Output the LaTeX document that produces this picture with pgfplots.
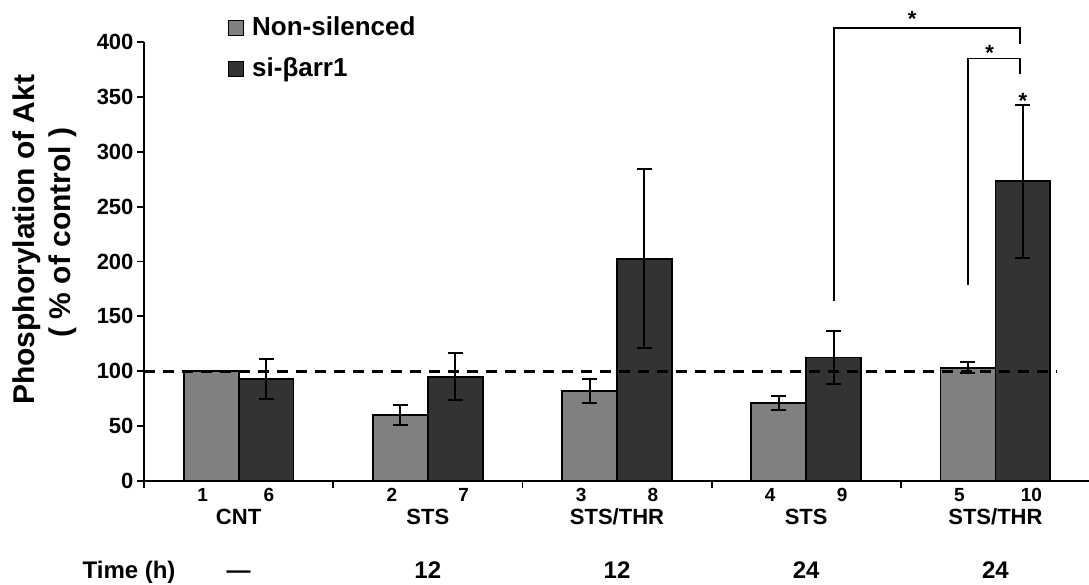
\documentclass[border=0pt]{standalone}
\usepackage{fontspec}
\setmainfont{Liberation Sans}
\usepackage{pgfplots}
\pgfplotsset{compat=1.18}
\usepackage{pgfplotstable}
\definecolor{lightbar}{HTML}{808080}
\definecolor{darkbar}{HTML}{333333}
\newcommand{\fs}[1]{\fontsize{#1}{#1}\selectfont\bfseries}
\tikzset{
  numlab/.style={anchor=base, font=\fs{19}, inner sep=0pt, yshift=-21pt},
  catlab/.style={anchor=base, font=\fs{22}, inner sep=0pt, yshift=-44pt},
  timelab/.style={anchor=base, font=\fs{24}, inner sep=0pt, yshift=-97pt},
  star/.style={font=\fs{22}, inner sep=0pt},
}

% x = bar centre (group index -/+ 0.145)
\pgfplotstableread{
x y ey
-0.145 100 0
0.855 60 8.8
1.855 82 10.6
2.855 71 6.5
3.855 103 5
}\nonsilenced
\pgfplotstableread{
x y ey
0.145 93 18.5
1.145 95 21.3
2.145 202.5 81.5
3.145 112.5 24.5
4.145 273 70
}\siarr

\begin{document}
\begin{tikzpicture}
\begin{axis}[
  at={(0,0)}, anchor=south west,
  width=946pt, height=439pt, scale only axis,
  xmin=-0.5, xmax=4.5, ymin=0, ymax=400,
  axis x line=bottom, axis y line=left,
  axis line style={-, line width=1.8pt, black},
  xtick={-0.5,0.5,1.5,2.5,3.5,4.5}, xticklabels={},
  ytick={0,50,...,400},
  tick align=outside, tick style={line width=1.8pt, black},
  major tick length=7pt,
  yticklabel style={font=\fs{22}},
  /pgf/number format/assume math mode=true,
  clip=false,
]
\addplot[ybar, bar width=0.29, bar shift=0, fill=lightbar, draw=black, line width=1.8pt,
  error bars/.cd, y dir=both, y explicit,
  error bar style={line width=2pt, black},
  error mark options={rotate=90, mark size=7.5pt, line width=2pt, black}]
  table[x=x, y=y, y error=ey] {\nonsilenced};
\addplot[ybar, bar width=0.29, bar shift=0, fill=darkbar, draw=black, line width=1.8pt,
  error bars/.cd, y dir=both, y explicit,
  error bar style={line width=2pt, black},
  error mark options={rotate=90, mark size=7.5pt, line width=2pt, black}]
  table[x=x, y=y, y error=ey] {\siarr};
% reference line
\addplot[black, line width=2.8pt, dash pattern=on 11pt off 8pt, forget plot] coordinates {(-0.5,100) (4.326,100)};
% significance brackets
\addplot[black, line width=1.8pt, sharp plot, forget plot] coordinates {(3.145,164) (3.145,412.6) (4.13,412.6) (4.13,398.6)};
\addplot[black, line width=1.8pt, sharp plot, forget plot] coordinates {(3.855,178.5) (3.855,385) (4.13,385) (4.13,371)};
\node[star] at (axis cs:3.56,421) {*};
\node[star] at (axis cs:3.97,389.7) {*};
\node[star] at (axis cs:4.145,346.5) {*};
% bar numbers
\node[numlab] at (axis cs:-0.19,0) {1};
\node[numlab] at (axis cs:0.16,0) {6};
\node[numlab] at (axis cs:0.81,0) {2};
\node[numlab] at (axis cs:1.19,0) {7};
\node[numlab] at (axis cs:1.81,0) {3};
\node[numlab] at (axis cs:2.19,0) {8};
\node[numlab] at (axis cs:2.81,0) {4};
\node[numlab] at (axis cs:3.19,0) {9};
\node[numlab] at (axis cs:3.81,0) {5};
\node[numlab] at (axis cs:4.19,0) {10};
% categories
\node[catlab] at (axis cs:0,0) {CNT};
\node[catlab] at (axis cs:1,0) {STS};
\node[catlab] at (axis cs:2,0) {STS/THR};
\node[catlab] at (axis cs:3,0) {STS};
\node[catlab] at (axis cs:4,0) {STS/THR};
% time row
\node[timelab] at (axis cs:-0.579,0) {Time (h)};
\node[timelab] at (axis cs:0,0) {—};
\node[timelab] at (axis cs:1,0) {12};
\node[timelab] at (axis cs:2,0) {12};
\node[timelab] at (axis cs:3,0) {24};
\node[timelab] at (axis cs:4,0) {24};
\end{axis}
% legend
\fill[lightbar, draw=black, line width=1pt] (84pt,445pt) rectangle (99pt,460pt);
\node[anchor=base west, inner sep=0pt, font=\fs{26}] at (108pt,445pt) {Non-silenced};
\fill[darkbar, draw=black, line width=1pt] (84pt,404pt) rectangle (99pt,419pt);
\node[anchor=base west, inner sep=0pt, font=\fs{26}] at (108pt,404pt) {si-βarr1};
% y label
\node[rotate=90, anchor=base, inner sep=0pt, font=\fs{30}] at (-109pt,241pt) {Phosphorylation of Akt};
\node[rotate=90, anchor=base, inner sep=0pt, font=\fs{30}] at (-73pt,248.5pt) {( \% of control )};
\pgfresetboundingbox
\path[use as bounding box] (-144pt,-104pt) rectangle (945pt,481pt);
\end{tikzpicture}
\end{document}
